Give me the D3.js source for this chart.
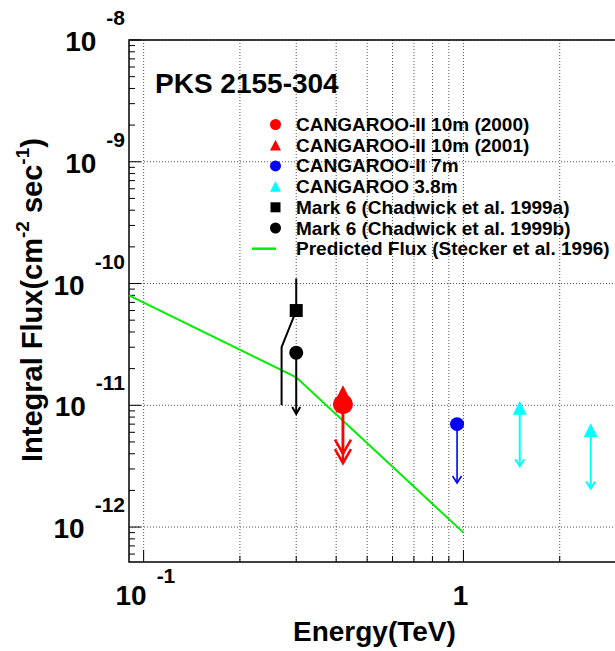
<!DOCTYPE html>
<html>
<head>
<meta charset="utf-8">
<script src="https://cdn.jsdelivr.net/npm/d3@7/dist/d3.min.js"></script>
<style>
	body { margin: 0; background: #fff; }
	svg { display: block; font-family: "Liberation Sans", Arial, Helvetica, sans-serif; font-weight: bold; }
</style>
</head>
<body>
<div id="chart"></div>
<script>
// ---- data ----
const title = "PKS 2155-304";
const legendLabels = [
	"CANGAROO-II 10m (2000)",
	"CANGAROO-II 10m (2001)",
	"CANGAROO-II 7m",
	"CANGAROO 3.8m",
	"Mark 6 (Chadwick et al. 1999a)",
	"Mark 6 (Chadwick et al. 1999b)",
	"Predicted Flux (Stecker et al. 1996)"
];
// energy (TeV), flux (cm^-2 s^-1), upper limit arrow end
const seriesE   = [[0.42], [0.42], [0.955], [1.5, 2.5], [0.3], [0.3]];
const seriesF   = [[1.02e-11], [1.21e-11], [7.0e-12], [9.5e-12, 6.24e-12], [6.0e-11], [2.7e-11]];
const seriesTo  = [[3.35e-12], [4.0e-12], [2.3e-12], [3.16e-12, 2.07e-12], [null], [8.5e-12]];
// Mark 6 (1999a) range drawn as a broken line
const mark6aE = [0.3, 0.3, 0.27, 0.27];
const mark6aF = [1.1e-10, 6.0e-11, 3.0e-11, 1.0e-11];
// Stecker et al. 1996 prediction
const predE = [0.09, 0.3, 1.0];
const predF = [8.0e-11, 1.7e-11, 9.0e-13];
const xMajor = [0.1, 1];
const xMinor = [0.2, 0.3, 0.4, 0.5, 0.6, 0.7, 0.8, 0.9, 2, 3];
const yDecades = [-12, -11, -10, -9, -8];

// ---- styles ----
const colors  = ["#ff0000", "#ff0000", "#0000ff", "#00ffff", "#000000", "#000000"];
const shapes  = ["circle", "triangle", "circle", "triangle", "square", "circle"];
const sizes   = [10, 10, 7, 7, 6.5, 7];
const lineW   = [2.5, 2.5, 1.6, 2, 2, 2];
const headW   = [8, 8, 4.5, 4.5, 4, 4];
const headL   = [14, 14, 7, 7, 7, 7];
const green   = "#00ee00";

const width = 615, height = 651;
const mLeft = 129, mTop = 40, mBottom = 562, mRight = 656;

const svg = d3.select("#chart").append("svg")
	.attr("width", width).attr("height", height);

const x = d3.scaleLog().domain([0.09, 4]).range([mLeft, mRight]);
const y = d3.scaleLog().domain([Math.pow(10, -12.287), 1e-8]).range([mBottom, mTop]);

function markerPath(shape, s) {
	if (shape === "circle") return d3.symbol(d3.symbolCircle, Math.PI * s * s)();
	if (shape === "square") return `M${-s},${-s}h${2 * s}v${2 * s}h${-2 * s}Z`;
	return `M0,${-s}L${s},${s * 0.95}L${-s},${s * 0.95}Z`;
}

// ---- grid ----
const grid = svg.append("g").attr("stroke", "#555").attr("stroke-width", 1)
	.attr("stroke-dasharray", "1,2");
grid.selectAll("line.gx").data(xMajor.concat(xMinor)).join("line")
	.attr("x1", d => x(d)).attr("x2", d => x(d)).attr("y1", mTop).attr("y2", mBottom);
grid.selectAll("line.gy").data(yDecades).join("line")
	.attr("y1", d => y(Math.pow(10, d))).attr("y2", d => y(Math.pow(10, d)))
	.attr("x1", mLeft).attr("x2", mRight);

// ---- frame & ticks ----
const frame = svg.append("g").attr("stroke", "#000").attr("fill", "none");
frame.append("path").attr("stroke-width", 1.5)
	.attr("d", `M${mRight},${mTop}H${mLeft}V${mBottom}H${mRight}`);

const yMinor = [];
for (let d = -13; d <= -9; d++)
	for (let m = 2; m <= 9; m++) {
		const v = m * Math.pow(10, d);
		if (v > y.domain()[0] && v < 1e-8) yMinor.push(v);
	}
frame.selectAll("line.ty").data(yMinor).join("line")
	.attr("x1", mLeft).attr("x2", mLeft + 6)
	.attr("y1", d => y(d)).attr("y2", d => y(d));
frame.selectAll("line.tY").data(yDecades).join("line")
	.attr("x1", mLeft).attr("x2", mLeft + 12)
	.attr("y1", d => y(Math.pow(10, d))).attr("y2", d => y(Math.pow(10, d)));
frame.selectAll("line.tx").data(xMinor).join("line")
	.attr("x1", d => x(d)).attr("x2", d => x(d))
	.attr("y1", mBottom).attr("y2", mBottom - 6);
frame.selectAll("line.tX").data(xMajor).join("line")
	.attr("x1", d => x(d)).attr("x2", d => x(d))
	.attr("y1", mBottom).attr("y2", mBottom - 12);

// ---- tick labels ----
yDecades.forEach(d => {
	const ty = y(Math.pow(10, d));
	const ex = svg.append("text").attr("x", 125).attr("y", ty - 15)
		.attr("text-anchor", "end").style("font-size", "21px").text(d);
	const w = ex.node().getComputedTextLength();
	svg.append("text").attr("x", 125 - w - 10).attr("y", ty + 11)
		.attr("text-anchor", "end").style("font-size", "28px").text("10");
});
svg.append("text").attr("x", x(0.1) + 3).attr("y", 605)
	.attr("text-anchor", "end").style("font-size", "28px").text("10");
svg.append("text").attr("x", x(0.1) + 13).attr("y", 583)
	.style("font-size", "21px").text("-1");
svg.append("text").attr("x", x(1) - 3).attr("y", 605)
	.attr("text-anchor", "middle").style("font-size", "28px").text("1");

// axis titles
svg.append("text").attr("x", 293).attr("y", 641)
	.style("font-size", "28px").text("Energy(TeV)");
const yt = svg.append("text").attr("transform", "translate(42,462)rotate(-90)")
	.style("font-size", "29px");
yt.append("tspan").text("Integral Flux(cm");
yt.append("tspan").attr("dy", -13).style("font-size", "19px").text("-2");
yt.append("tspan").attr("dy", 13).text(" sec");
yt.append("tspan").attr("dy", -13).style("font-size", "19px").text("-1");
yt.append("tspan").attr("dy", 13).text(")");

svg.append("text").attr("x", 155).attr("y", 93)
	.style("font-size", "28px").text(title);

// ---- prediction line ----
const plot = svg.append("g");
plot.append("path")
	.datum(d3.zip(predE, predF))
	.attr("fill", "none").attr("stroke", green).attr("stroke-width", 2)
	.attr("d", d3.line().x(d => x(d[0])).y(d => y(d[1])));

// Mark 6 1999a broken range line
plot.append("path")
	.datum(d3.zip(mark6aE, mark6aF))
	.attr("fill", "none").attr("stroke", "#000").attr("stroke-width", 2)
	.attr("d", d3.line().x(d => x(d[0])).y(d => y(d[1])));

// ---- upper-limit arrows ----
seriesE.forEach((es, i) => {
	es.forEach((e, j) => {
		const to = seriesTo[i][j];
		if (to == null) return;
		const px = x(e), y0 = y(seriesF[i][j]), y1 = y(to);
		const g = plot.append("g").attr("stroke", colors[i]).attr("fill", "none")
			.attr("stroke-width", lineW[i]);
		g.append("line").attr("x1", px).attr("x2", px).attr("y1", y0).attr("y2", y1);
		g.append("path")
			.attr("d", `M${px - headW[i]},${y1 - headL[i]}L${px},${y1}L${px + headW[i]},${y1 - headL[i]}`);
	});
});

// ---- markers ----
seriesE.forEach((es, i) => {
	plot.selectAll(null).data(d3.zip(es, seriesF[i])).join("path")
		.attr("transform", d => `translate(${x(d[0])},${y(d[1])})`)
		.attr("d", markerPath(shapes[i], sizes[i]))
		.attr("fill", colors[i]);
});

// ---- legend ----
const leg = svg.append("g");
const legY0 = 124.5, legDy = 20.7, legMx = 275.5;
legendLabels.forEach((lab, i) => {
	const ly = legY0 + i * legDy;
	if (i < shapes.length) {
		leg.append("path").attr("transform", `translate(${legMx},${ly})`)
			.attr("d", markerPath(shapes[i], shapes[i] === "square" ? 5 : 5.5))
			.attr("fill", colors[i]);
	} else {
		leg.append("line").attr("x1", 252).attr("x2", 276).attr("y1", ly).attr("y2", ly)
			.attr("stroke", green).attr("stroke-width", 2.5);
	}
	leg.append("text").attr("x", 296).attr("y", ly + 6.5)
		.style("font-size", "19px").text(lab);
});
</script>
</body>
</html>
